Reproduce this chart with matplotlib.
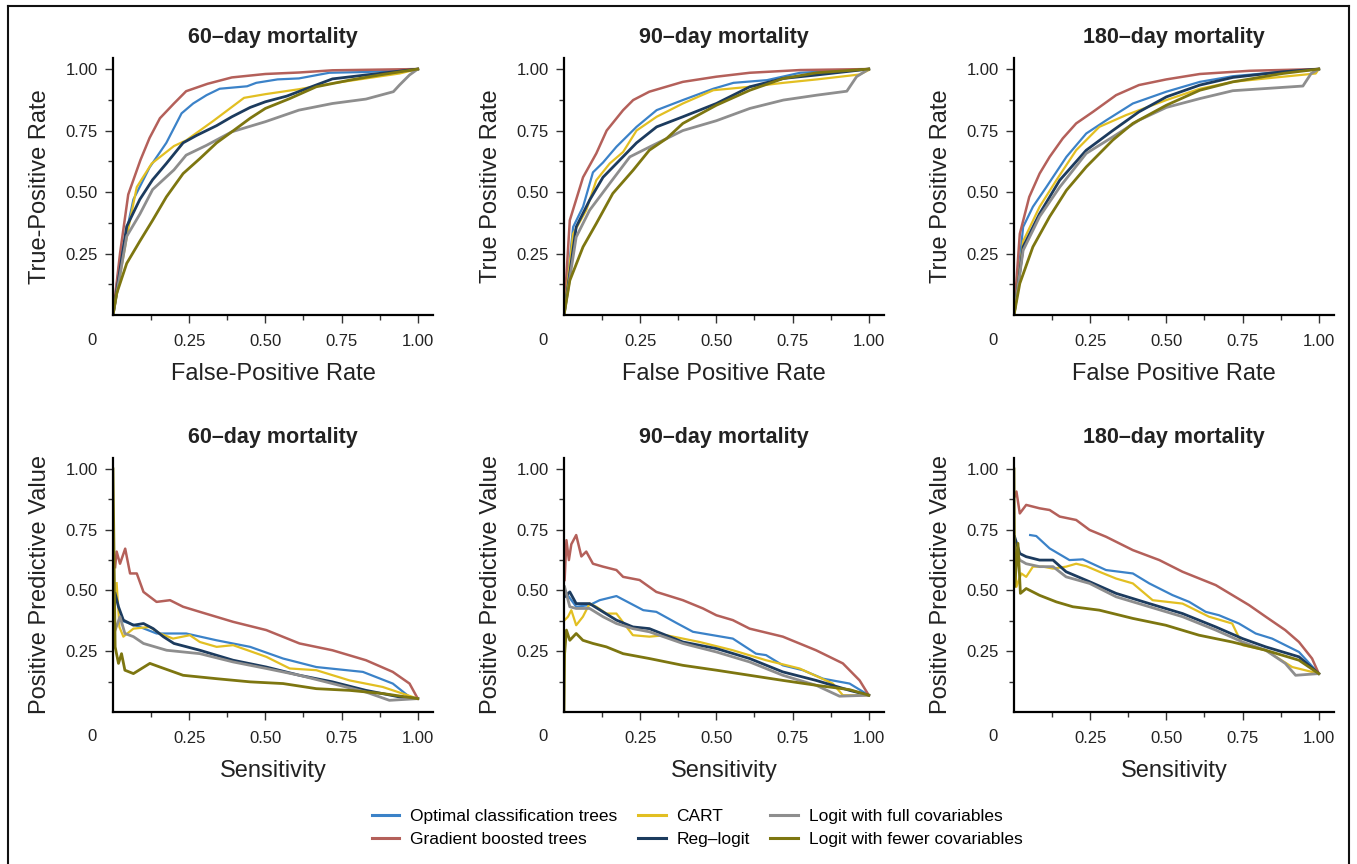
import matplotlib
matplotlib.use("Agg")
import matplotlib.pyplot as plt
from matplotlib.lines import Line2D

# series names / colours (legend order)
models = ["oct", "gbt", "cart", "reglogit", "full", "fewer"]
labels = ["Optimal classification trees", "Gradient boosted trees", "CART",
          "Reg\u2013logit", "Logit with full covariables",
          "Logit with fewer covariables"]
colors = ["#3B82C8", "#B4605A", "#E2BF22", "#1C3B5E", "#8E8E8E", "#7D7610"]
widths = [1.6, 1.8, 1.6, 2.0, 2.0, 2.0]

titles = ["60\u2013day mortality", "90\u2013day mortality", "180\u2013day mortality"]

# ROC curves (FPR, TPR)
roc_60 = {
    "gbt": ([0, .023, .05, .09, .12, .154, .2, .24, .31, .39, .5, .61, .72, 1],
            [0, .25, .49, .63, .72, .80, .86, .91, .94, .966, .98, .986, .995, 1]),
    "oct": ([0, .02, .067, .12, .175, .225, .263, .307, .35, .44, .47, .54, .61, .71, .83, 1],
            [0, .2, .47, .60, .70, .82, .86, .894, .92, .93, .944, .958, .962, .985, .988, 1]),
    "cart": ([0, .05, .078, .127, .2, .24, .33, .43, .5, .61, .72, .83, .94, 1],
             [0, .35, .52, .616, .687, .71, .79, .883, .898, .918, .942, .962, .982, 1]),
    "reglogit": ([0, .045, .088, .13, .175, .23, .274, .34, .39, .45, .5, .57, .634, .72, .83, 1],
                 [0, .36, .47, .55, .616, .70, .73, .77, .806, .844, .867, .89, .92, .96, .976, 1]),
    "full": ([0, .045, .088, .13, .2, .24, .307, .39, .5, .61, .72, .83, .92, .94, .973, 1],
             [0, .32, .41, .51, .59, .65, .69, .745, .786, .833, .86, .878, .908, .935, .976, 1]),
    "fewer": ([0, .012, .045, .088, .13, .175, .23, .285, .34, .39, .45, .5, .58, .667, .776, .885, 1],
              [0, .087, .21, .30, .385, .48, .575, .636, .70, .745, .80, .84, .88, .928, .955, .978, 1]),
}
roc_90 = {
    "gbt": ([0, .019, .0625, .106, .14, .194, .227, .28, .39, .5, .61, .775, 1],
            [0, .385, .56, .657, .75, .833, .874, .908, .948, .969, .985, .996, 1]),
    "oct": ([0, .03, .0625, .095, .128, .172, .238, .304, .39, .49, .556, .666, .775, 1],
            [0, .358, .44, .58, .62, .684, .765, .833, .874, .92, .944, .955, .985, 1]),
    "cart": ([0, .03, .073, .106, .15, .194, .238, .304, .39, .49, .61, .72, .83, .97, 1],
             [0, .33, .426, .548, .616, .663, .75, .806, .86, .914, .928, .944, .958, .978, .996]),
    "reglogit": ([0, .04, .084, .128, .172, .238, .304, .39, .5, .61, .72, .83, 1],
                 [0, .358, .467, .56, .616, .70, .765, .806, .86, .928, .962, .976, 1]),
    "full": ([0, .04, .084, .15, .216, .282, .39, .5, .61, .72, .83, .928, .96, 1],
             [0, .317, .426, .535, .643, .684, .75, .79, .84, .874, .894, .91, .969, 1]),
    "fewer": ([0, .019, .0625, .106, .16, .227, .28, .337, .39, .5, .61, .72, .83, 1],
              [0, .14, .277, .372, .494, .589, .67, .718, .779, .853, .914, .962, .985, 1]),
}
roc_180 = {
    "gbt": ([0, .019, .05, .084, .117, .16, .204, .259, .335, .41, .5, .61, .773, 1],
            [0, .33, .48, .575, .643, .718, .779, .826, .894, .935, .958, .98, .993, 1]),
    "oct": ([0, .03, .062, .106, .172, .237, .303, .39, .5, .61, .718, .882, 1],
            [0, .358, .44, .52, .643, .738, .792, .86, .908, .948, .971, .989, 1]),
    "cart": ([0, .03, .084, .139, .204, .28, .368, .5, .61, .718, .827, .99, 1],
             [0, .30, .44, .548, .67, .765, .813, .874, .92, .948, .962, .982, 1]),
    "reglogit": ([0, .03, .084, .15, .237, .324, .41, .5, .61, .718, .882, 1],
                 [0, .277, .412, .548, .67, .75, .826, .887, .935, .966, .989, 1]),
    "full": ([0, .03, .084, .15, .237, .324, .41, .5, .61, .718, .827, .948, .975, 1],
             [0, .263, .40, .52, .657, .724, .792, .844, .88, .912, .921, .931, .982, 1]),
    "fewer": ([0, .019, .062, .117, .172, .237, .324, .39, .5, .61, .718, .882, 1],
              [0, .128, .277, .40, .507, .602, .711, .779, .853, .914, .948, .982, 1]),
}

# precision-recall style curves (sensitivity, PPV)
ppv_60 = {
    "gbt": ([.007, .012, .023, .04, .056, .078, .1, .143, .187, .23, .285, .394, .503, .612, .72, .83, .918, .973, 1],
            [.596, .66, .61, .672, .57, .57, .494, .453, .46, .433, .412, .371, .337, .282, .254, .213, .165, .117, .055]),
    "oct": ([.023, .088, .143, .24, .34, .45, .558, .667, .82, .918, .973, 1],
            [.378, .35, .323, .323, .295, .268, .22, .185, .165, .117, .062, .055]),
    "cart": ([.012, .021, .034, .067, .121, .154, .197, .252, .285, .34, .394, .503, .58, .667, .776, .885, 1],
             [.53, .35, .31, .343, .35, .323, .302, .316, .288, .268, .275, .227, .179, .172, .13, .103, .055]),
    "reglogit": ([.007, .018, .034, .067, .1, .132, .165, .2, .285, .394, .503, .612, .72, .83, .94, 1],
                 [.488, .433, .378, .357, .364, .343, .31, .282, .254, .213, .185, .151, .124, .089, .062, .055]),
    "full": ([.007, .023, .039, .067, .1, .176, .285, .394, .503, .612, .72, .83, .907, 1],
             [.337, .392, .323, .31, .282, .254, .24, .206, .179, .151, .117, .082, .048, .055]),
    "fewer": ([0, .007, .018, .028, .039, .067, .121, .154, .23, .34, .45, .558, .667, .776, .885, 1],
              [1.0, .268, .2, .24, .172, .158, .2, .185, .151, .137, .124, .117, .096, .089, .076, .055]),
}
ppv_90 = {
    "gbt": ([.002, .008, .016, .024, .04, .057, .073, .095, .128, .172, .194, .248, .303, .39, .456, .5, .554, .609, .718, .827, .915, .97, 1],
            [.543, .707, .625, .69, .728, .64, .66, .61, .598, .584, .556, .543, .494, .46, .426, .398, .378, .343, .31, .254, .2, .13, .069]),
    "oct": ([.008, .04, .084, .117, .172, .26, .303, .368, .423, .554, .63, .663, .718, .784, .85, .937, 1],
            [.488, .433, .44, .46, .477, .419, .412, .367, .33, .302, .24, .234, .192, .172, .137, .117, .069]),
    "cart": ([.002, .013, .024, .04, .062, .084, .106, .139, .172, .226, .28, .335, .445, .554, .663, .773, .882, .915, 1],
             [.378, .392, .419, .357, .392, .446, .433, .405, .405, .316, .31, .316, .288, .254, .213, .179, .117, .069, .069]),
    "reglogit": ([.002, .019, .04, .084, .128, .172, .226, .28, .39, .5, .609, .718, .827, .937, 1],
                 [.474, .494, .446, .446, .412, .378, .35, .343, .288, .261, .22, .165, .13, .089, .069]),
    "full": ([.002, .019, .04, .084, .128, .172, .226, .28, .39, .5, .609, .718, .827, .904, 1],
             [.515, .433, .426, .426, .392, .364, .343, .33, .282, .247, .206, .151, .11, .065, .069]),
    "fewer": ([0, .002, .008, .019, .04, .062, .095, .139, .194, .28, .39, .5, .609, .718, .827, .937, 1],
              [0, .24, .337, .295, .323, .295, .282, .268, .24, .22, .192, .172, .151, .13, .11, .092, .069]),
}
ppv_180 = {
    "gbt": ([.002, .008, .019, .04, .084, .117, .15, .204, .248, .302, .39, .477, .553, .662, .771, .826, .89, .935, .978, 1],
            [.886, .907, .817, .852, .838, .831, .804, .79, .749, .721, .666, .625, .577, .522, .44, .392, .337, .288, .22, .158]),
    "oct": ([.053, .073, .117, .182, .226, .302, .39, .444, .52, .575, .629, .673, .738, .793, .847, .935, 1],
            [.728, .724, .673, .625, .628, .584, .57, .529, .481, .453, .412, .398, .364, .323, .302, .247, .158]),
    "cart": ([.002, .008, .024, .04, .062, .095, .128, .171, .204, .237, .28, .335, .39, .455, .553, .64, .716, .75, .826, .913, 1],
             [.652, .515, .57, .556, .598, .598, .59, .598, .61, .6, .577, .549, .529, .46, .446, .392, .364, .275, .254, .185, .158]),
    "reglogit": ([.002, .019, .04, .084, .128, .171, .248, .335, .444, .553, .662, .75, .826, .935, 1],
                 [.721, .652, .639, .625, .625, .577, .536, .488, .446, .405, .35, .302, .268, .227, .158]),
    "full": ([.002, .019, .04, .084, .128, .171, .248, .335, .444, .553, .662, .75, .826, .89, .924, 1],
             [.68, .625, .61, .598, .598, .556, .529, .474, .433, .392, .337, .288, .254, .2, .151, .158]),
    "fewer": ([0, .002, .013, .021, .04, .084, .139, .193, .28, .39, .498, .607, .716, .826, .935, 1],
              [1.0, .515, .694, .488, .508, .48, .453, .433, .419, .385, .357, .316, .288, .254, .213, .158]),
}

panels = [
    (roc_60, titles[0], "False-Positive Rate", "True-Positive Rate"),
    (roc_90, titles[1], "False Positive Rate", "True Positive Rate"),
    (roc_180, titles[2], "False Positive Rate", "True Positive Rate"),
    (ppv_60, titles[0], "Sensitivity", "Positive Predictive Value"),
    (ppv_90, titles[1], "Sensitivity", "Positive Predictive Value"),
    (ppv_180, titles[2], "Sensitivity", "Positive Predictive Value"),
]

W, H = 1357, 864
fig = plt.figure(figsize=(W / 100, H / 100), dpi=100)
font = ["Liberation Sans", "DejaVu Sans"]
ink = "#222222"

col_left = [113, 564, 1014]
rows = [(58, 315), (458, 712)]
ax_w = 320
ticks = [0.25, 0.5, 0.75, 1.0]
tick_labels = ["0.25", "0.50", "0.75", "1.00"]
minor = [0.125, 0.375, 0.625, 0.875]

for i, (data, title, xlab, ylab) in enumerate(panels):
    r, c = divmod(i, 3)
    top, bot = rows[r]
    ax = fig.add_axes([col_left[c] / W, 1 - bot / H, ax_w / W, (bot - top) / H])
    for m, col, lw in zip(models, colors, widths):
        x, y = data[m]
        ax.plot(x, y, color=col, lw=lw, solid_joinstyle="round")
    ax.set_xlim(0, 1.05)
    ax.set_ylim(0, 1.045)
    ax.spines[["top", "right"]].set_visible(False)
    for s in ("left", "bottom"):
        ax.spines[s].set_linewidth(1.6)
    ax.set_xticks(ticks, tick_labels)
    ax.set_yticks(ticks, tick_labels)
    ax.set_xticks(minor, minor=True)
    ax.set_yticks(minor, minor=True)
    ax.tick_params(which="major", length=6, width=1, color="#333333", pad=5,
                   labelsize=12, labelcolor=ink)
    ax.tick_params(axis="x", which="major", pad=8)
    ax.tick_params(which="minor", length=3.5, width=1, color="#333333")
    for lbl in ax.get_xticklabels() + ax.get_yticklabels():
        lbl.set_family(font)
    ax.text(-0.066, -0.098, "0", transform=ax.transAxes, ha="center",
            va="center", fontsize=12, color=ink, family=font)
    ax.set_title(title, fontsize=15.5, fontweight="bold", family=font,
                 color=ink, pad=11)
    ax.set_xlabel(xlab, fontsize=17, family=font, color=ink, labelpad=10)
    ax.set_ylabel(ylab, fontsize=17, family=font, color=ink, labelpad=10)

handles = [Line2D([], [], color=c, lw=2.2) for c in colors]
fig.legend(handles, labels, ncol=3, loc="center",
           bbox_to_anchor=(697 / W, 1 - 828 / H), frameon=False,
           prop={"family": font, "size": 12.5}, handlelength=1.6,
           handletextpad=0.6, columnspacing=1.2, labelspacing=0.45)

# frame around the figure (open at the bottom)
lk = dict(color="#111111", lw=1.5, transform=fig.transFigure)
fig.add_artist(Line2D([7.5 / W, 7.5 / W], [0, 1 - 6 / H], **lk))
fig.add_artist(Line2D([7.5 / W, 1349 / W], [1 - 6 / H, 1 - 6 / H], **lk))
fig.add_artist(Line2D([1349 / W, 1349 / W], [0, 1 - 6 / H], **lk))

fig.savefig("out.png", dpi=100)
